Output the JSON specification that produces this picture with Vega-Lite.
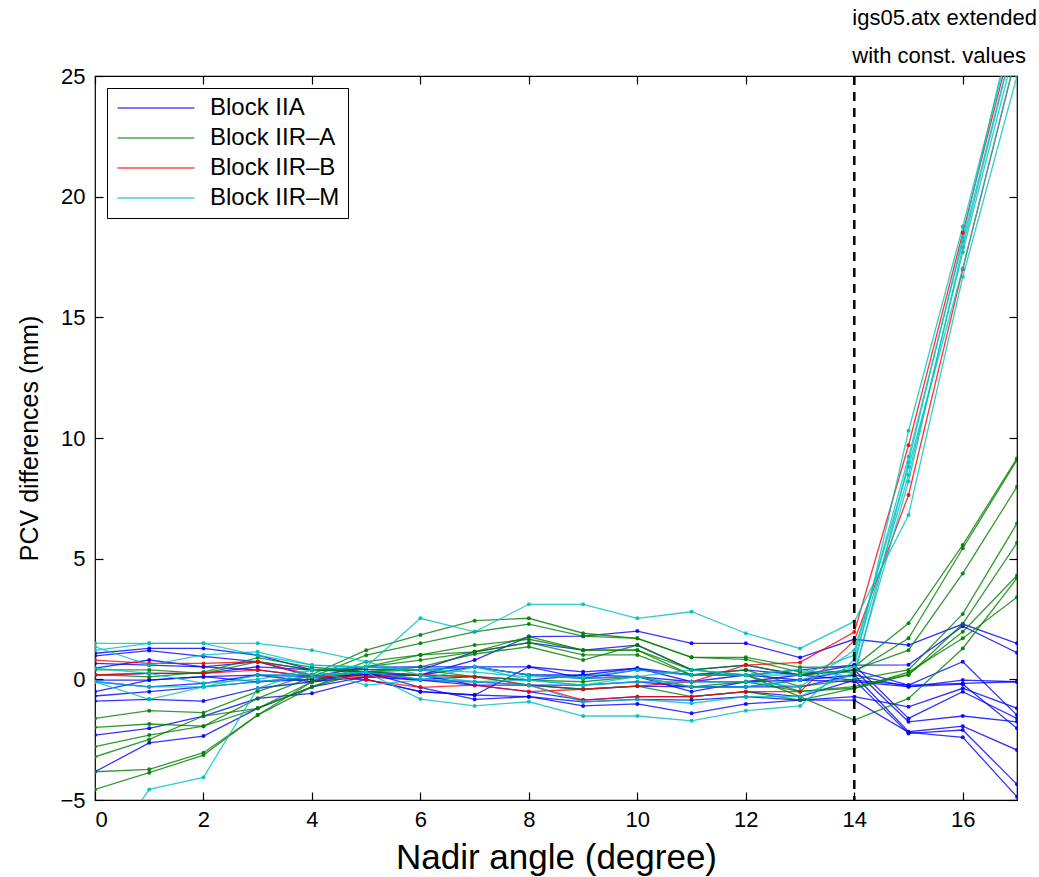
{
"$schema": "https://vega.github.io/schema/vega-lite/v6.json",
"width": 922, "height": 724,
"autosize": {"type": "none"},
"padding": {"left": 95, "top": 76, "right": 22, "bottom": 77},
"background": "white",
"config": {
  "view": {"stroke": "black", "strokeWidth": 1.2},
  "font": "Liberation Sans, sans-serif",
  "axis": {"grid": false, "domain": false, "offset": -8, "tickColor": "black", "tickWidth": 1.2, "tickSize": 8,
           "labelColor": "black", "labelFontSize": 22, "labelFont": "Liberation Sans, sans-serif",
           "titleColor": "black", "titleFontSize": 32, "titleFontWeight": "normal", "titleFont": "Liberation Sans, sans-serif"}
},
"datasets": {
"pcv": [
{"block":"Block IIA","sat":"B1","angle":0,"pcv":1.08},{"block":"Block IIA","sat":"B1","angle":1,"pcv":1.28},{"block":"Block IIA","sat":"B1","angle":2,"pcv":1.28},{"block":"Block IIA","sat":"B1","angle":3,"pcv":1.0},{"block":"Block IIA","sat":"B1","angle":4,"pcv":0.39},{"block":"Block IIA","sat":"B1","angle":5,"pcv":0.31},{"block":"Block IIA","sat":"B1","angle":6,"pcv":0.18},{"block":"Block IIA","sat":"B1","angle":7,"pcv":0.8},{"block":"Block IIA","sat":"B1","angle":8,"pcv":1.77},{"block":"Block IIA","sat":"B1","angle":9,"pcv":1.79},{"block":"Block IIA","sat":"B1","angle":10,"pcv":2.0},{"block":"Block IIA","sat":"B1","angle":11,"pcv":1.49},{"block":"Block IIA","sat":"B1","angle":12,"pcv":1.49},{"block":"Block IIA","sat":"B1","angle":13,"pcv":0.9},{"block":"Block IIA","sat":"B1","angle":14,"pcv":1.66},{"block":"Block IIA","sat":"B1","angle":15,"pcv":1.42},{"block":"Block IIA","sat":"B1","angle":16,"pcv":2.29},{"block":"Block IIA","sat":"B1","angle":17,"pcv":1.49},
{"block":"Block IIA","sat":"B2","angle":0,"pcv":0.97},{"block":"Block IIA","sat":"B2","angle":1,"pcv":1.19},{"block":"Block IIA","sat":"B2","angle":2,"pcv":0.95},{"block":"Block IIA","sat":"B2","angle":3,"pcv":0.73},{"block":"Block IIA","sat":"B2","angle":4,"pcv":0.11},{"block":"Block IIA","sat":"B2","angle":5,"pcv":0.52},{"block":"Block IIA","sat":"B2","angle":6,"pcv":0.39},{"block":"Block IIA","sat":"B2","angle":7,"pcv":1.14},{"block":"Block IIA","sat":"B2","angle":8,"pcv":1.52},{"block":"Block IIA","sat":"B2","angle":9,"pcv":1.21},{"block":"Block IIA","sat":"B2","angle":10,"pcv":1.42},{"block":"Block IIA","sat":"B2","angle":11,"pcv":0.39},{"block":"Block IIA","sat":"B2","angle":12,"pcv":0.59},{"block":"Block IIA","sat":"B2","angle":13,"pcv":0.18},{"block":"Block IIA","sat":"B2","angle":14,"pcv":0.59},{"block":"Block IIA","sat":"B2","angle":15,"pcv":0.6},{"block":"Block IIA","sat":"B2","angle":16,"pcv":2.2},{"block":"Block IIA","sat":"B2","angle":17,"pcv":1.1},
{"block":"Block IIA","sat":"B3","angle":0,"pcv":0.46},{"block":"Block IIA","sat":"B3","angle":1,"pcv":0.8},{"block":"Block IIA","sat":"B3","angle":2,"pcv":0.52},{"block":"Block IIA","sat":"B3","angle":3,"pcv":0.39},{"block":"Block IIA","sat":"B3","angle":4,"pcv":0.11},{"block":"Block IIA","sat":"B3","angle":5,"pcv":0.0},{"block":"Block IIA","sat":"B3","angle":6,"pcv":-0.51},{"block":"Block IIA","sat":"B3","angle":7,"pcv":-0.65},{"block":"Block IIA","sat":"B3","angle":8,"pcv":0.52},{"block":"Block IIA","sat":"B3","angle":9,"pcv":0.31},{"block":"Block IIA","sat":"B3","angle":10,"pcv":0.46},{"block":"Block IIA","sat":"B3","angle":11,"pcv":0.18},{"block":"Block IIA","sat":"B3","angle":12,"pcv":0.18},{"block":"Block IIA","sat":"B3","angle":13,"pcv":-0.03},{"block":"Block IIA","sat":"B3","angle":14,"pcv":0.39},{"block":"Block IIA","sat":"B3","angle":15,"pcv":-0.24},{"block":"Block IIA","sat":"B3","angle":16,"pcv":0.73},{"block":"Block IIA","sat":"B3","angle":17,"pcv":-1.48},
{"block":"Block IIA","sat":"B4","angle":0,"pcv":-0.51},{"block":"Block IIA","sat":"B4","angle":1,"pcv":-0.03},{"block":"Block IIA","sat":"B4","angle":2,"pcv":0.11},{"block":"Block IIA","sat":"B4","angle":3,"pcv":0.18},{"block":"Block IIA","sat":"B4","angle":4,"pcv":-0.1},{"block":"Block IIA","sat":"B4","angle":5,"pcv":0.1},{"block":"Block IIA","sat":"B4","angle":6,"pcv":-0.03},{"block":"Block IIA","sat":"B4","angle":7,"pcv":-0.1},{"block":"Block IIA","sat":"B4","angle":8,"pcv":-0.24},{"block":"Block IIA","sat":"B4","angle":9,"pcv":-0.41},{"block":"Block IIA","sat":"B4","angle":10,"pcv":-0.28},{"block":"Block IIA","sat":"B4","angle":11,"pcv":-0.31},{"block":"Block IIA","sat":"B4","angle":12,"pcv":-0.31},{"block":"Block IIA","sat":"B4","angle":13,"pcv":-0.31},{"block":"Block IIA","sat":"B4","angle":14,"pcv":0.18},{"block":"Block IIA","sat":"B4","angle":15,"pcv":-0.31},{"block":"Block IIA","sat":"B4","angle":16,"pcv":-0.03},{"block":"Block IIA","sat":"B4","angle":17,"pcv":-0.1},
{"block":"Block IIA","sat":"B5","angle":0,"pcv":-0.69},{"block":"Block IIA","sat":"B5","angle":1,"pcv":-0.51},{"block":"Block IIA","sat":"B5","angle":2,"pcv":-0.31},{"block":"Block IIA","sat":"B5","angle":3,"pcv":-0.1},{"block":"Block IIA","sat":"B5","angle":4,"pcv":0.0},{"block":"Block IIA","sat":"B5","angle":5,"pcv":0.2},{"block":"Block IIA","sat":"B5","angle":6,"pcv":0.18},{"block":"Block IIA","sat":"B5","angle":7,"pcv":-0.24},{"block":"Block IIA","sat":"B5","angle":8,"pcv":-0.51},{"block":"Block IIA","sat":"B5","angle":9,"pcv":-0.86},{"block":"Block IIA","sat":"B5","angle":10,"pcv":-0.72},{"block":"Block IIA","sat":"B5","angle":11,"pcv":-0.72},{"block":"Block IIA","sat":"B5","angle":12,"pcv":-0.51},{"block":"Block IIA","sat":"B5","angle":13,"pcv":-0.72},{"block":"Block IIA","sat":"B5","angle":14,"pcv":-0.03},{"block":"Block IIA","sat":"B5","angle":15,"pcv":-0.24},{"block":"Block IIA","sat":"B5","angle":16,"pcv":-0.17},{"block":"Block IIA","sat":"B5","angle":17,"pcv":-0.1},
{"block":"Block IIA","sat":"B6","angle":0,"pcv":-0.9},{"block":"Block IIA","sat":"B6","angle":1,"pcv":-0.83},{"block":"Block IIA","sat":"B6","angle":2,"pcv":-0.9},{"block":"Block IIA","sat":"B6","angle":3,"pcv":-0.37},{"block":"Block IIA","sat":"B6","angle":4,"pcv":-0.1},{"block":"Block IIA","sat":"B6","angle":5,"pcv":0.3},{"block":"Block IIA","sat":"B6","angle":6,"pcv":-0.33},{"block":"Block IIA","sat":"B6","angle":7,"pcv":-0.83},{"block":"Block IIA","sat":"B6","angle":8,"pcv":-0.72},{"block":"Block IIA","sat":"B6","angle":9,"pcv":-0.93},{"block":"Block IIA","sat":"B6","angle":10,"pcv":-0.83},{"block":"Block IIA","sat":"B6","angle":11,"pcv":-0.86},{"block":"Block IIA","sat":"B6","angle":12,"pcv":-0.72},{"block":"Block IIA","sat":"B6","angle":13,"pcv":-0.86},{"block":"Block IIA","sat":"B6","angle":14,"pcv":-0.72},{"block":"Block IIA","sat":"B6","angle":15,"pcv":-1.14},{"block":"Block IIA","sat":"B6","angle":16,"pcv":-0.37},{"block":"Block IIA","sat":"B6","angle":17,"pcv":-1.2},
{"block":"Block IIA","sat":"B7","angle":0,"pcv":-2.31},{"block":"Block IIA","sat":"B7","angle":1,"pcv":-2.03},{"block":"Block IIA","sat":"B7","angle":2,"pcv":-1.52},{"block":"Block IIA","sat":"B7","angle":3,"pcv":-0.79},{"block":"Block IIA","sat":"B7","angle":4,"pcv":-0.58},{"block":"Block IIA","sat":"B7","angle":5,"pcv":0.0},{"block":"Block IIA","sat":"B7","angle":6,"pcv":-0.51},{"block":"Block IIA","sat":"B7","angle":7,"pcv":-0.65},{"block":"Block IIA","sat":"B7","angle":8,"pcv":-0.72},{"block":"Block IIA","sat":"B7","angle":9,"pcv":-1.1},{"block":"Block IIA","sat":"B7","angle":10,"pcv":-1.02},{"block":"Block IIA","sat":"B7","angle":11,"pcv":-1.41},{"block":"Block IIA","sat":"B7","angle":12,"pcv":-1.02},{"block":"Block IIA","sat":"B7","angle":13,"pcv":-0.86},{"block":"Block IIA","sat":"B7","angle":14,"pcv":-0.86},{"block":"Block IIA","sat":"B7","angle":15,"pcv":-2.2},{"block":"Block IIA","sat":"B7","angle":16,"pcv":-2.4},{"block":"Block IIA","sat":"B7","angle":17,"pcv":-4.87},
{"block":"Block IIA","sat":"B8","angle":0,"pcv":-3.83},{"block":"Block IIA","sat":"B8","angle":1,"pcv":-2.63},{"block":"Block IIA","sat":"B8","angle":2,"pcv":-2.35},{"block":"Block IIA","sat":"B8","angle":3,"pcv":-1.2},{"block":"Block IIA","sat":"B8","angle":4,"pcv":-0.31},{"block":"Block IIA","sat":"B8","angle":5,"pcv":0.1},{"block":"Block IIA","sat":"B8","angle":6,"pcv":0.18},{"block":"Block IIA","sat":"B8","angle":7,"pcv":0.52},{"block":"Block IIA","sat":"B8","angle":8,"pcv":0.18},{"block":"Block IIA","sat":"B8","angle":9,"pcv":0.18},{"block":"Block IIA","sat":"B8","angle":10,"pcv":0.11},{"block":"Block IIA","sat":"B8","angle":11,"pcv":-0.1},{"block":"Block IIA","sat":"B8","angle":12,"pcv":0.18},{"block":"Block IIA","sat":"B8","angle":13,"pcv":0.39},{"block":"Block IIA","sat":"B8","angle":14,"pcv":0.59},{"block":"Block IIA","sat":"B8","angle":15,"pcv":-1.62},{"block":"Block IIA","sat":"B8","angle":16,"pcv":-0.51},{"block":"Block IIA","sat":"B8","angle":17,"pcv":-1.62},
{"block":"Block IIA","sat":"B9","angle":0,"pcv":0.18},{"block":"Block IIA","sat":"B9","angle":1,"pcv":0.25},{"block":"Block IIA","sat":"B9","angle":2,"pcv":0.25},{"block":"Block IIA","sat":"B9","angle":3,"pcv":0.52},{"block":"Block IIA","sat":"B9","angle":4,"pcv":0.39},{"block":"Block IIA","sat":"B9","angle":5,"pcv":0.4},{"block":"Block IIA","sat":"B9","angle":6,"pcv":0.39},{"block":"Block IIA","sat":"B9","angle":7,"pcv":0.52},{"block":"Block IIA","sat":"B9","angle":8,"pcv":0.52},{"block":"Block IIA","sat":"B9","angle":9,"pcv":0.04},{"block":"Block IIA","sat":"B9","angle":10,"pcv":0.39},{"block":"Block IIA","sat":"B9","angle":11,"pcv":0.18},{"block":"Block IIA","sat":"B9","angle":12,"pcv":0.39},{"block":"Block IIA","sat":"B9","angle":13,"pcv":0.18},{"block":"Block IIA","sat":"B9","angle":14,"pcv":0.39},{"block":"Block IIA","sat":"B9","angle":15,"pcv":-1.76},{"block":"Block IIA","sat":"B9","angle":16,"pcv":-1.52},{"block":"Block IIA","sat":"B9","angle":17,"pcv":-1.76},
{"block":"Block IIA","sat":"B10","angle":0,"pcv":-0.1},{"block":"Block IIA","sat":"B10","angle":1,"pcv":-0.31},{"block":"Block IIA","sat":"B10","angle":2,"pcv":-0.17},{"block":"Block IIA","sat":"B10","angle":3,"pcv":0.18},{"block":"Block IIA","sat":"B10","angle":4,"pcv":0.11},{"block":"Block IIA","sat":"B10","angle":5,"pcv":0.3},{"block":"Block IIA","sat":"B10","angle":6,"pcv":0.0},{"block":"Block IIA","sat":"B10","angle":7,"pcv":0.11},{"block":"Block IIA","sat":"B10","angle":8,"pcv":-0.03},{"block":"Block IIA","sat":"B10","angle":9,"pcv":0.18},{"block":"Block IIA","sat":"B10","angle":10,"pcv":0.46},{"block":"Block IIA","sat":"B10","angle":11,"pcv":-0.1},{"block":"Block IIA","sat":"B10","angle":12,"pcv":-0.1},{"block":"Block IIA","sat":"B10","angle":13,"pcv":-0.03},{"block":"Block IIA","sat":"B10","angle":14,"pcv":0.18},{"block":"Block IIA","sat":"B10","angle":15,"pcv":-2.17},{"block":"Block IIA","sat":"B10","angle":16,"pcv":-1.94},{"block":"Block IIA","sat":"B10","angle":17,"pcv":-2.93},
{"block":"Block IIA","sat":"B11","angle":0,"pcv":0.66},{"block":"Block IIA","sat":"B11","angle":1,"pcv":0.59},{"block":"Block IIA","sat":"B11","angle":2,"pcv":0.52},{"block":"Block IIA","sat":"B11","angle":3,"pcv":0.73},{"block":"Block IIA","sat":"B11","angle":4,"pcv":0.39},{"block":"Block IIA","sat":"B11","angle":5,"pcv":0.5},{"block":"Block IIA","sat":"B11","angle":6,"pcv":0.52},{"block":"Block IIA","sat":"B11","angle":7,"pcv":0.52},{"block":"Block IIA","sat":"B11","angle":8,"pcv":0.18},{"block":"Block IIA","sat":"B11","angle":9,"pcv":0.04},{"block":"Block IIA","sat":"B11","angle":10,"pcv":0.11},{"block":"Block IIA","sat":"B11","angle":11,"pcv":-0.51},{"block":"Block IIA","sat":"B11","angle":12,"pcv":-0.1},{"block":"Block IIA","sat":"B11","angle":13,"pcv":0.18},{"block":"Block IIA","sat":"B11","angle":14,"pcv":-0.03},{"block":"Block IIA","sat":"B11","angle":15,"pcv":-2.24},{"block":"Block IIA","sat":"B11","angle":16,"pcv":-2.1},{"block":"Block IIA","sat":"B11","angle":17,"pcv":-4.35},
{"block":"Block IIA","sat":"B12","angle":0,"pcv":-0.03},{"block":"Block IIA","sat":"B12","angle":1,"pcv":-0.03},{"block":"Block IIA","sat":"B12","angle":2,"pcv":0.11},{"block":"Block IIA","sat":"B12","angle":3,"pcv":-0.1},{"block":"Block IIA","sat":"B12","angle":4,"pcv":0.1},{"block":"Block IIA","sat":"B12","angle":5,"pcv":0.2},{"block":"Block IIA","sat":"B12","angle":6,"pcv":-0.03},{"block":"Block IIA","sat":"B12","angle":7,"pcv":-0.24},{"block":"Block IIA","sat":"B12","angle":8,"pcv":-0.24},{"block":"Block IIA","sat":"B12","angle":9,"pcv":-0.24},{"block":"Block IIA","sat":"B12","angle":10,"pcv":-0.1},{"block":"Block IIA","sat":"B12","angle":11,"pcv":-0.31},{"block":"Block IIA","sat":"B12","angle":12,"pcv":-0.31},{"block":"Block IIA","sat":"B12","angle":13,"pcv":-0.03},{"block":"Block IIA","sat":"B12","angle":14,"pcv":-0.1},{"block":"Block IIA","sat":"B12","angle":15,"pcv":-0.3},{"block":"Block IIA","sat":"B12","angle":16,"pcv":-0.2},{"block":"Block IIA","sat":"B12","angle":17,"pcv":-2.03},
{"block":"Block IIR-A","sat":"G1","angle":0,"pcv":-1.62},{"block":"Block IIR-A","sat":"G1","angle":1,"pcv":-1.3},{"block":"Block IIR-A","sat":"G1","angle":2,"pcv":-1.38},{"block":"Block IIR-A","sat":"G1","angle":3,"pcv":-0.5},{"block":"Block IIR-A","sat":"G1","angle":4,"pcv":0.2},{"block":"Block IIR-A","sat":"G1","angle":5,"pcv":1.21},{"block":"Block IIR-A","sat":"G1","angle":6,"pcv":1.84},{"block":"Block IIR-A","sat":"G1","angle":7,"pcv":2.43},{"block":"Block IIR-A","sat":"G1","angle":8,"pcv":2.53},{"block":"Block IIR-A","sat":"G1","angle":9,"pcv":1.91},{"block":"Block IIR-A","sat":"G1","angle":10,"pcv":1.7},{"block":"Block IIR-A","sat":"G1","angle":11,"pcv":0.91},{"block":"Block IIR-A","sat":"G1","angle":12,"pcv":0.91},{"block":"Block IIR-A","sat":"G1","angle":13,"pcv":0.5},{"block":"Block IIR-A","sat":"G1","angle":14,"pcv":0.52},{"block":"Block IIR-A","sat":"G1","angle":15,"pcv":2.32},{"block":"Block IIR-A","sat":"G1","angle":16,"pcv":5.57},{"block":"Block IIR-A","sat":"G1","angle":17,"pcv":9.16},
{"block":"Block IIR-A","sat":"G2","angle":0,"pcv":-1.99},{"block":"Block IIR-A","sat":"G2","angle":1,"pcv":-1.85},{"block":"Block IIR-A","sat":"G2","angle":2,"pcv":-1.94},{"block":"Block IIR-A","sat":"G2","angle":3,"pcv":-0.79},{"block":"Block IIR-A","sat":"G2","angle":4,"pcv":0.1},{"block":"Block IIR-A","sat":"G2","angle":5,"pcv":1.0},{"block":"Block IIR-A","sat":"G2","angle":6,"pcv":1.49},{"block":"Block IIR-A","sat":"G2","angle":7,"pcv":1.97},{"block":"Block IIR-A","sat":"G2","angle":8,"pcv":2.29},{"block":"Block IIR-A","sat":"G2","angle":9,"pcv":1.79},{"block":"Block IIR-A","sat":"G2","angle":10,"pcv":1.7},{"block":"Block IIR-A","sat":"G2","angle":11,"pcv":0.91},{"block":"Block IIR-A","sat":"G2","angle":12,"pcv":0.83},{"block":"Block IIR-A","sat":"G2","angle":13,"pcv":0.3},{"block":"Block IIR-A","sat":"G2","angle":14,"pcv":0.3},{"block":"Block IIR-A","sat":"G2","angle":15,"pcv":1.7},{"block":"Block IIR-A","sat":"G2","angle":16,"pcv":5.43},{"block":"Block IIR-A","sat":"G2","angle":17,"pcv":9.09},
{"block":"Block IIR-A","sat":"G3","angle":0,"pcv":-2.79},{"block":"Block IIR-A","sat":"G3","angle":1,"pcv":-2.31},{"block":"Block IIR-A","sat":"G3","angle":2,"pcv":-1.94},{"block":"Block IIR-A","sat":"G3","angle":3,"pcv":-1.2},{"block":"Block IIR-A","sat":"G3","angle":4,"pcv":-0.1},{"block":"Block IIR-A","sat":"G3","angle":5,"pcv":0.73},{"block":"Block IIR-A","sat":"G3","angle":6,"pcv":1.01},{"block":"Block IIR-A","sat":"G3","angle":7,"pcv":1.42},{"block":"Block IIR-A","sat":"G3","angle":8,"pcv":1.66},{"block":"Block IIR-A","sat":"G3","angle":9,"pcv":1.21},{"block":"Block IIR-A","sat":"G3","angle":10,"pcv":1.21},{"block":"Block IIR-A","sat":"G3","angle":11,"pcv":0.39},{"block":"Block IIR-A","sat":"G3","angle":12,"pcv":0.59},{"block":"Block IIR-A","sat":"G3","angle":13,"pcv":0.18},{"block":"Block IIR-A","sat":"G3","angle":14,"pcv":0.39},{"block":"Block IIR-A","sat":"G3","angle":15,"pcv":1.21},{"block":"Block IIR-A","sat":"G3","angle":16,"pcv":4.39},{"block":"Block IIR-A","sat":"G3","angle":17,"pcv":7.98},
{"block":"Block IIR-A","sat":"G4","angle":0,"pcv":-3.21},{"block":"Block IIR-A","sat":"G4","angle":1,"pcv":-2.49},{"block":"Block IIR-A","sat":"G4","angle":2,"pcv":-1.52},{"block":"Block IIR-A","sat":"G4","angle":3,"pcv":-1.2},{"block":"Block IIR-A","sat":"G4","angle":4,"pcv":-0.31},{"block":"Block IIR-A","sat":"G4","angle":5,"pcv":0.52},{"block":"Block IIR-A","sat":"G4","angle":6,"pcv":0.8},{"block":"Block IIR-A","sat":"G4","angle":7,"pcv":1.14},{"block":"Block IIR-A","sat":"G4","angle":8,"pcv":1.52},{"block":"Block IIR-A","sat":"G4","angle":9,"pcv":1.01},{"block":"Block IIR-A","sat":"G4","angle":10,"pcv":1.01},{"block":"Block IIR-A","sat":"G4","angle":11,"pcv":0.18},{"block":"Block IIR-A","sat":"G4","angle":12,"pcv":0.39},{"block":"Block IIR-A","sat":"G4","angle":13,"pcv":-0.3},{"block":"Block IIR-A","sat":"G4","angle":14,"pcv":0.0},{"block":"Block IIR-A","sat":"G4","angle":15,"pcv":0.39},{"block":"Block IIR-A","sat":"G4","angle":16,"pcv":2.71},{"block":"Block IIR-A","sat":"G4","angle":17,"pcv":6.46},
{"block":"Block IIR-A","sat":"G5","angle":0,"pcv":-3.83},{"block":"Block IIR-A","sat":"G5","angle":1,"pcv":-3.73},{"block":"Block IIR-A","sat":"G5","angle":2,"pcv":-3.04},{"block":"Block IIR-A","sat":"G5","angle":3,"pcv":-1.48},{"block":"Block IIR-A","sat":"G5","angle":4,"pcv":-0.31},{"block":"Block IIR-A","sat":"G5","angle":5,"pcv":0.31},{"block":"Block IIR-A","sat":"G5","angle":6,"pcv":0.52},{"block":"Block IIR-A","sat":"G5","angle":7,"pcv":1.05},{"block":"Block IIR-A","sat":"G5","angle":8,"pcv":1.35},{"block":"Block IIR-A","sat":"G5","angle":9,"pcv":0.8},{"block":"Block IIR-A","sat":"G5","angle":10,"pcv":1.42},{"block":"Block IIR-A","sat":"G5","angle":11,"pcv":0.39},{"block":"Block IIR-A","sat":"G5","angle":12,"pcv":0.18},{"block":"Block IIR-A","sat":"G5","angle":13,"pcv":-0.5},{"block":"Block IIR-A","sat":"G5","angle":14,"pcv":-0.37},{"block":"Block IIR-A","sat":"G5","angle":15,"pcv":0.18},{"block":"Block IIR-A","sat":"G5","angle":16,"pcv":2.3},{"block":"Block IIR-A","sat":"G5","angle":17,"pcv":5.66},
{"block":"Block IIR-A","sat":"G6","angle":0,"pcv":-4.56},{"block":"Block IIR-A","sat":"G6","angle":1,"pcv":-3.87},{"block":"Block IIR-A","sat":"G6","angle":2,"pcv":-3.14},{"block":"Block IIR-A","sat":"G6","angle":3,"pcv":-1.48},{"block":"Block IIR-A","sat":"G6","angle":4,"pcv":-0.1},{"block":"Block IIR-A","sat":"G6","angle":5,"pcv":0.52},{"block":"Block IIR-A","sat":"G6","angle":6,"pcv":1.01},{"block":"Block IIR-A","sat":"G6","angle":7,"pcv":1.14},{"block":"Block IIR-A","sat":"G6","angle":8,"pcv":1.77},{"block":"Block IIR-A","sat":"G6","angle":9,"pcv":1.21},{"block":"Block IIR-A","sat":"G6","angle":10,"pcv":1.21},{"block":"Block IIR-A","sat":"G6","angle":11,"pcv":0.18},{"block":"Block IIR-A","sat":"G6","angle":12,"pcv":0.18},{"block":"Block IIR-A","sat":"G6","angle":13,"pcv":-0.72},{"block":"Block IIR-A","sat":"G6","angle":14,"pcv":-1.69},{"block":"Block IIR-A","sat":"G6","angle":15,"pcv":-0.79},{"block":"Block IIR-A","sat":"G6","angle":16,"pcv":1.28},{"block":"Block IIR-A","sat":"G6","angle":17,"pcv":4.19},
{"block":"Block IIR-A","sat":"G7","angle":0,"pcv":0.39},{"block":"Block IIR-A","sat":"G7","angle":1,"pcv":0.39},{"block":"Block IIR-A","sat":"G7","angle":2,"pcv":0.25},{"block":"Block IIR-A","sat":"G7","angle":3,"pcv":0.73},{"block":"Block IIR-A","sat":"G7","angle":4,"pcv":0.39},{"block":"Block IIR-A","sat":"G7","angle":5,"pcv":0.31},{"block":"Block IIR-A","sat":"G7","angle":6,"pcv":0.18},{"block":"Block IIR-A","sat":"G7","angle":7,"pcv":0.11},{"block":"Block IIR-A","sat":"G7","angle":8,"pcv":-0.24},{"block":"Block IIR-A","sat":"G7","angle":9,"pcv":-0.41},{"block":"Block IIR-A","sat":"G7","angle":10,"pcv":-0.28},{"block":"Block IIR-A","sat":"G7","angle":11,"pcv":-0.72},{"block":"Block IIR-A","sat":"G7","angle":12,"pcv":-0.51},{"block":"Block IIR-A","sat":"G7","angle":13,"pcv":-0.86},{"block":"Block IIR-A","sat":"G7","angle":14,"pcv":-0.37},{"block":"Block IIR-A","sat":"G7","angle":15,"pcv":0.3},{"block":"Block IIR-A","sat":"G7","angle":16,"pcv":1.7},{"block":"Block IIR-A","sat":"G7","angle":17,"pcv":3.4},
{"block":"Block IIR-A","sat":"G8","angle":0,"pcv":0.2},{"block":"Block IIR-A","sat":"G8","angle":1,"pcv":0.1},{"block":"Block IIR-A","sat":"G8","angle":2,"pcv":0.3},{"block":"Block IIR-A","sat":"G8","angle":3,"pcv":0.9},{"block":"Block IIR-A","sat":"G8","angle":4,"pcv":0.5},{"block":"Block IIR-A","sat":"G8","angle":5,"pcv":0.31},{"block":"Block IIR-A","sat":"G8","angle":6,"pcv":0.39},{"block":"Block IIR-A","sat":"G8","angle":7,"pcv":0.11},{"block":"Block IIR-A","sat":"G8","angle":8,"pcv":-0.03},{"block":"Block IIR-A","sat":"G8","angle":9,"pcv":-0.1},{"block":"Block IIR-A","sat":"G8","angle":10,"pcv":0.11},{"block":"Block IIR-A","sat":"G8","angle":11,"pcv":-0.31},{"block":"Block IIR-A","sat":"G8","angle":12,"pcv":-0.1},{"block":"Block IIR-A","sat":"G8","angle":13,"pcv":-0.5},{"block":"Block IIR-A","sat":"G8","angle":14,"pcv":-0.3},{"block":"Block IIR-A","sat":"G8","angle":15,"pcv":0.2},{"block":"Block IIR-A","sat":"G8","angle":16,"pcv":1.97},{"block":"Block IIR-A","sat":"G8","angle":17,"pcv":4.3},
{"block":"Block IIR-B","sat":"R1","angle":0,"pcv":0.8},{"block":"Block IIR-B","sat":"R1","angle":1,"pcv":0.66},{"block":"Block IIR-B","sat":"R1","angle":2,"pcv":0.66},{"block":"Block IIR-B","sat":"R1","angle":3,"pcv":0.73},{"block":"Block IIR-B","sat":"R1","angle":4,"pcv":0.18},{"block":"Block IIR-B","sat":"R1","angle":5,"pcv":-0.03},{"block":"Block IIR-B","sat":"R1","angle":6,"pcv":-0.33},{"block":"Block IIR-B","sat":"R1","angle":7,"pcv":-0.24},{"block":"Block IIR-B","sat":"R1","angle":8,"pcv":-0.51},{"block":"Block IIR-B","sat":"R1","angle":9,"pcv":-0.41},{"block":"Block IIR-B","sat":"R1","angle":10,"pcv":-0.28},{"block":"Block IIR-B","sat":"R1","angle":11,"pcv":-0.1},{"block":"Block IIR-B","sat":"R1","angle":12,"pcv":0.59},{"block":"Block IIR-B","sat":"R1","angle":13,"pcv":0.7},{"block":"Block IIR-B","sat":"R1","angle":14,"pcv":1.96},{"block":"Block IIR-B","sat":"R1","angle":15,"pcv":9.7},{"block":"Block IIR-B","sat":"R1","angle":16,"pcv":18.5},{"block":"Block IIR-B","sat":"R1","angle":17,"pcv":27.3},
{"block":"Block IIR-B","sat":"R2","angle":0,"pcv":0.18},{"block":"Block IIR-B","sat":"R2","angle":1,"pcv":0.25},{"block":"Block IIR-B","sat":"R2","angle":2,"pcv":0.25},{"block":"Block IIR-B","sat":"R2","angle":3,"pcv":0.39},{"block":"Block IIR-B","sat":"R2","angle":4,"pcv":0.11},{"block":"Block IIR-B","sat":"R2","angle":5,"pcv":0.1},{"block":"Block IIR-B","sat":"R2","angle":6,"pcv":0.18},{"block":"Block IIR-B","sat":"R2","angle":7,"pcv":0.11},{"block":"Block IIR-B","sat":"R2","angle":8,"pcv":-0.24},{"block":"Block IIR-B","sat":"R2","angle":9,"pcv":-0.86},{"block":"Block IIR-B","sat":"R2","angle":10,"pcv":-0.72},{"block":"Block IIR-B","sat":"R2","angle":11,"pcv":-0.72},{"block":"Block IIR-B","sat":"R2","angle":12,"pcv":-0.51},{"block":"Block IIR-B","sat":"R2","angle":13,"pcv":-0.51},{"block":"Block IIR-B","sat":"R2","angle":14,"pcv":1.6},{"block":"Block IIR-B","sat":"R2","angle":15,"pcv":7.64},{"block":"Block IIR-B","sat":"R2","angle":16,"pcv":17.0},{"block":"Block IIR-B","sat":"R2","angle":17,"pcv":26.0},
{"block":"Block IIR-M","sat":"C1","angle":0,"pcv":1.49},{"block":"Block IIR-M","sat":"C1","angle":1,"pcv":1.49},{"block":"Block IIR-M","sat":"C1","angle":2,"pcv":1.49},{"block":"Block IIR-M","sat":"C1","angle":3,"pcv":1.49},{"block":"Block IIR-M","sat":"C1","angle":4,"pcv":1.21},{"block":"Block IIR-M","sat":"C1","angle":5,"pcv":0.73},{"block":"Block IIR-M","sat":"C1","angle":6,"pcv":0.18},{"block":"Block IIR-M","sat":"C1","angle":7,"pcv":-0.1},{"block":"Block IIR-M","sat":"C1","angle":8,"pcv":-0.03},{"block":"Block IIR-M","sat":"C1","angle":9,"pcv":-0.24},{"block":"Block IIR-M","sat":"C1","angle":10,"pcv":0.11},{"block":"Block IIR-M","sat":"C1","angle":11,"pcv":-0.31},{"block":"Block IIR-M","sat":"C1","angle":12,"pcv":-0.31},{"block":"Block IIR-M","sat":"C1","angle":13,"pcv":-0.03},{"block":"Block IIR-M","sat":"C1","angle":14,"pcv":0.5},{"block":"Block IIR-M","sat":"C1","angle":15,"pcv":10.3},{"block":"Block IIR-M","sat":"C1","angle":16,"pcv":18.76},{"block":"Block IIR-M","sat":"C1","angle":17,"pcv":27.5},
{"block":"Block IIR-M","sat":"C2","angle":0,"pcv":1.35},{"block":"Block IIR-M","sat":"C2","angle":1,"pcv":0.59},{"block":"Block IIR-M","sat":"C2","angle":2,"pcv":1.01},{"block":"Block IIR-M","sat":"C2","angle":3,"pcv":1.14},{"block":"Block IIR-M","sat":"C2","angle":4,"pcv":0.59},{"block":"Block IIR-M","sat":"C2","angle":5,"pcv":0.52},{"block":"Block IIR-M","sat":"C2","angle":6,"pcv":0.39},{"block":"Block IIR-M","sat":"C2","angle":7,"pcv":0.52},{"block":"Block IIR-M","sat":"C2","angle":8,"pcv":0.18},{"block":"Block IIR-M","sat":"C2","angle":9,"pcv":0.04},{"block":"Block IIR-M","sat":"C2","angle":10,"pcv":0.11},{"block":"Block IIR-M","sat":"C2","angle":11,"pcv":0.39},{"block":"Block IIR-M","sat":"C2","angle":12,"pcv":0.18},{"block":"Block IIR-M","sat":"C2","angle":13,"pcv":0.18},{"block":"Block IIR-M","sat":"C2","angle":14,"pcv":1.0},{"block":"Block IIR-M","sat":"C2","angle":15,"pcv":9.22},{"block":"Block IIR-M","sat":"C2","angle":16,"pcv":18.14},{"block":"Block IIR-M","sat":"C2","angle":17,"pcv":27.0},
{"block":"Block IIR-M","sat":"C3","angle":0,"pcv":-0.1},{"block":"Block IIR-M","sat":"C3","angle":1,"pcv":-0.83},{"block":"Block IIR-M","sat":"C3","angle":2,"pcv":-0.31},{"block":"Block IIR-M","sat":"C3","angle":3,"pcv":-0.1},{"block":"Block IIR-M","sat":"C3","angle":4,"pcv":0.11},{"block":"Block IIR-M","sat":"C3","angle":5,"pcv":0.3},{"block":"Block IIR-M","sat":"C3","angle":6,"pcv":-0.82},{"block":"Block IIR-M","sat":"C3","angle":7,"pcv":-1.1},{"block":"Block IIR-M","sat":"C3","angle":8,"pcv":-0.93},{"block":"Block IIR-M","sat":"C3","angle":9,"pcv":-1.52},{"block":"Block IIR-M","sat":"C3","angle":10,"pcv":-1.52},{"block":"Block IIR-M","sat":"C3","angle":11,"pcv":-1.72},{"block":"Block IIR-M","sat":"C3","angle":12,"pcv":-1.3},{"block":"Block IIR-M","sat":"C3","angle":13,"pcv":-1.1},{"block":"Block IIR-M","sat":"C3","angle":14,"pcv":0.8},{"block":"Block IIR-M","sat":"C3","angle":15,"pcv":8.47},{"block":"Block IIR-M","sat":"C3","angle":16,"pcv":17.7},{"block":"Block IIR-M","sat":"C3","angle":17,"pcv":26.5},
{"block":"Block IIR-M","sat":"C4","angle":0,"pcv":-7.8},{"block":"Block IIR-M","sat":"C4","angle":1,"pcv":-4.56},{"block":"Block IIR-M","sat":"C4","angle":2,"pcv":-4.06},{"block":"Block IIR-M","sat":"C4","angle":3,"pcv":-0.37},{"block":"Block IIR-M","sat":"C4","angle":4,"pcv":0.39},{"block":"Block IIR-M","sat":"C4","angle":5,"pcv":0.52},{"block":"Block IIR-M","sat":"C4","angle":6,"pcv":2.53},{"block":"Block IIR-M","sat":"C4","angle":7,"pcv":1.97},{"block":"Block IIR-M","sat":"C4","angle":8,"pcv":3.11},{"block":"Block IIR-M","sat":"C4","angle":9,"pcv":3.11},{"block":"Block IIR-M","sat":"C4","angle":10,"pcv":2.53},{"block":"Block IIR-M","sat":"C4","angle":11,"pcv":2.8},{"block":"Block IIR-M","sat":"C4","angle":12,"pcv":1.91},{"block":"Block IIR-M","sat":"C4","angle":13,"pcv":1.28},{"block":"Block IIR-M","sat":"C4","angle":14,"pcv":2.4},{"block":"Block IIR-M","sat":"C4","angle":15,"pcv":6.81},{"block":"Block IIR-M","sat":"C4","angle":16,"pcv":16.68},{"block":"Block IIR-M","sat":"C4","angle":17,"pcv":25.0},
{"block":"Block IIR-M","sat":"C5","angle":0,"pcv":0.46},{"block":"Block IIR-M","sat":"C5","angle":1,"pcv":0.25},{"block":"Block IIR-M","sat":"C5","angle":2,"pcv":-0.17},{"block":"Block IIR-M","sat":"C5","angle":3,"pcv":0.0},{"block":"Block IIR-M","sat":"C5","angle":4,"pcv":0.39},{"block":"Block IIR-M","sat":"C5","angle":5,"pcv":-0.24},{"block":"Block IIR-M","sat":"C5","angle":6,"pcv":-0.03},{"block":"Block IIR-M","sat":"C5","angle":7,"pcv":0.52},{"block":"Block IIR-M","sat":"C5","angle":8,"pcv":-0.03},{"block":"Block IIR-M","sat":"C5","angle":9,"pcv":-0.24},{"block":"Block IIR-M","sat":"C5","angle":10,"pcv":-0.1},{"block":"Block IIR-M","sat":"C5","angle":11,"pcv":-0.1},{"block":"Block IIR-M","sat":"C5","angle":12,"pcv":-0.1},{"block":"Block IIR-M","sat":"C5","angle":13,"pcv":-0.31},{"block":"Block IIR-M","sat":"C5","angle":14,"pcv":1.2},{"block":"Block IIR-M","sat":"C5","angle":15,"pcv":8.8},{"block":"Block IIR-M","sat":"C5","angle":16,"pcv":17.03},{"block":"Block IIR-M","sat":"C5","angle":17,"pcv":26.0},
{"block":"Block IIR-M","sat":"C6","angle":0,"pcv":-0.1},{"block":"Block IIR-M","sat":"C6","angle":1,"pcv":-0.31},{"block":"Block IIR-M","sat":"C6","angle":2,"pcv":-0.31},{"block":"Block IIR-M","sat":"C6","angle":3,"pcv":0.18},{"block":"Block IIR-M","sat":"C6","angle":4,"pcv":0.2},{"block":"Block IIR-M","sat":"C6","angle":5,"pcv":0.3},{"block":"Block IIR-M","sat":"C6","angle":6,"pcv":0.0},{"block":"Block IIR-M","sat":"C6","angle":7,"pcv":-0.1},{"block":"Block IIR-M","sat":"C6","angle":8,"pcv":-0.24},{"block":"Block IIR-M","sat":"C6","angle":9,"pcv":-0.93},{"block":"Block IIR-M","sat":"C6","angle":10,"pcv":-0.83},{"block":"Block IIR-M","sat":"C6","angle":11,"pcv":-0.99},{"block":"Block IIR-M","sat":"C6","angle":12,"pcv":-0.72},{"block":"Block IIR-M","sat":"C6","angle":13,"pcv":-0.72},{"block":"Block IIR-M","sat":"C6","angle":14,"pcv":0.3},{"block":"Block IIR-M","sat":"C6","angle":15,"pcv":8.2},{"block":"Block IIR-M","sat":"C6","angle":16,"pcv":17.9},{"block":"Block IIR-M","sat":"C6","angle":17,"pcv":27.0},
{"block":"Block IIR-M","sat":"C7","angle":0,"pcv":1.2},{"block":"Block IIR-M","sat":"C7","angle":1,"pcv":1.49},{"block":"Block IIR-M","sat":"C7","angle":2,"pcv":1.49},{"block":"Block IIR-M","sat":"C7","angle":3,"pcv":1.0},{"block":"Block IIR-M","sat":"C7","angle":4,"pcv":0.59},{"block":"Block IIR-M","sat":"C7","angle":5,"pcv":0.5},{"block":"Block IIR-M","sat":"C7","angle":6,"pcv":0.39},{"block":"Block IIR-M","sat":"C7","angle":7,"pcv":0.3},{"block":"Block IIR-M","sat":"C7","angle":8,"pcv":0.1},{"block":"Block IIR-M","sat":"C7","angle":9,"pcv":0.1},{"block":"Block IIR-M","sat":"C7","angle":10,"pcv":0.39},{"block":"Block IIR-M","sat":"C7","angle":11,"pcv":0.18},{"block":"Block IIR-M","sat":"C7","angle":12,"pcv":0.18},{"block":"Block IIR-M","sat":"C7","angle":13,"pcv":0.4},{"block":"Block IIR-M","sat":"C7","angle":14,"pcv":0.1},{"block":"Block IIR-M","sat":"C7","angle":15,"pcv":9.0},{"block":"Block IIR-M","sat":"C7","angle":16,"pcv":18.3},{"block":"Block IIR-M","sat":"C7","angle":17,"pcv":28.0}
],
"one": [{"marker": "igs05"}]
},
"layer": [
  {
    "data": {"name": "pcv"},
    "mark": {"type": "line", "clip": true, "strokeWidth": 1.3, "opacity": 0.8},
    "encoding": {
      "x": {"field": "angle", "type": "quantitative", "scale": {"domain": [0, 17], "nice": false, "zero": false},
            "axis": {"orient": "bottom", "values": [0, 2, 4, 6, 8, 10, 12, 14, 16], "title": "Nadir angle (degree)", "labelPadding": 9, "titlePadding": 10, "titleFontSize": 35}},
      "y": {"field": "pcv", "type": "quantitative", "scale": {"domain": [-5, 25], "nice": false, "zero": false},
            "axis": {"orient": "left", "values": [-5, 0, 5, 10, 15, 20, 25], "title": "PCV differences (mm)", "labelPadding": 10, "titlePadding": 17, "titleFontSize": 25}},
      "color": {"field": "block", "type": "nominal",
                "scale": {"domain": ["Block IIA", "Block IIR-A", "Block IIR-B", "Block IIR-M"], "range": ["#0000ff", "#008000", "#ff0000", "#00bfbf"]},
                "legend": {"title": null, "orient": "top-left", "offset": 12, "symbolType": "M-4,0H4", "symbolSize": 370, "symbolOffset": 29, "symbolStrokeWidth": 1.5,
                           "labelFontSize": 24, "labelColor": "black", "labelFont": "Liberation Sans, sans-serif", "labelOffset": 42,
                           "fillColor": "white", "strokeColor": "black", "padding": 8, "rowPadding": 6, "symbolOpacity": 0.7,
                           "labelExpr": "replace(datum.label, '-', '\u2013')"}},
      "detail": {"field": "sat"}
    }
  },
  {
    "data": {"name": "pcv"},
    "mark": {"type": "point", "filled": true, "clip": true, "size": 16, "opacity": 0.9},
    "encoding": {
      "x": {"field": "angle", "type": "quantitative", "axis": null},
      "y": {"field": "pcv", "type": "quantitative", "axis": null},
      "color": {"field": "block", "type": "nominal", "legend": null}
    }
  },
  {
    "data": {"name": "one"},
    "mark": {"type": "rule", "strokeDash": [9, 7], "strokeWidth": 2.5, "color": "black"},
    "encoding": {"x": {"datum": 14, "type": "quantitative", "axis": null}}
  },
  {
    "data": {"name": "one"},
    "mark": {"type": "point", "opacity": 0},
    "encoding": {
      "x": {"datum": 0, "type": "quantitative", "axis": {"orient": "top", "values": [0, 2, 4, 6, 8, 10, 12, 14, 16], "labels": false, "title": null}},
      "y": {"datum": 0, "type": "quantitative", "axis": {"orient": "right", "values": [-5, 0, 5, 10, 15, 20, 25], "labels": false, "title": null}}
    }
  },
  {
    "data": {"name": "one"},
    "mark": {"type": "text", "text": ["igs05.atx extended", "with const. values"], "align": "left", "baseline": "bottom",
             "fontSize": 22, "lineHeight": 38, "dy": -46, "dx": -2, "color": "black", "font": "Liberation Sans, sans-serif"},
    "encoding": {"x": {"datum": 14, "type": "quantitative", "axis": null}, "y": {"datum": 25, "type": "quantitative", "axis": null}}
  }
]
}
